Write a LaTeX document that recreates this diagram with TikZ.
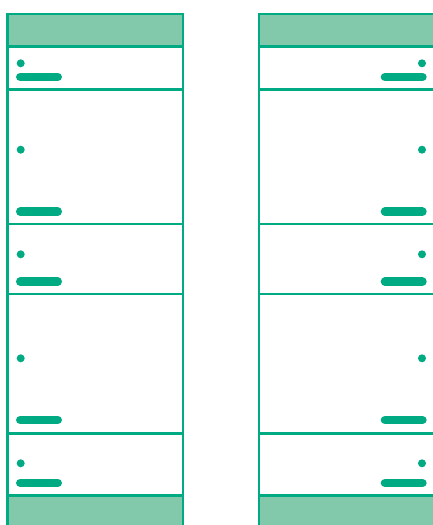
\documentclass[tikz,border=0pt]{standalone}
\usepackage{tikz}
\definecolor{panelline}{RGB}{0,171,132}
\definecolor{panelfill}{RGB}{130,200,170}
\tikzset{
  panelframe/.style={draw=panelline, line width=1.7pt},
  panelband/.style={fill=panelfill},
  paneldot/.style={fill=panelline},
  panelbar/.style={draw=panelline, line width=4.9pt, line cap=round},
}

\begin{document}
\begin{tikzpicture}[x=0.02cm, y=-0.02cm]
\useasboundingbox (0,0) rectangle (433,525);
\clip (0,0) rectangle (433,525);
% two panels: left edge, right edge, dot x, bar start, bar end
\foreach \xl/\xr/\xd/\xa/\xb in {7.5/183/20.7/20.3/57.7, 259/434.5/422/385/422.4} {
  \fill[panelband] (\xl,14) rectangle (\xr,46.5);
  \fill[panelband] (\xl,495.7) rectangle (\xr,540);
  \draw[panelframe] (\xl,14) rectangle (\xr,540);
  \foreach \yy in {46.5, 89.5, 224, 294, 433.3, 495.7}
    \draw[panelframe] (\xl,\yy) -- (\xr,\yy);
  \foreach \yd/\yb in {63.3/77, 149.7/211.7, 254.3/281.7, 358.3/420, 463.3/483} {
    \fill[paneldot] (\xd,\yd) circle (0.08cm);
    \draw[panelbar] (\xa,\yb) -- (\xb,\yb);
  }
}
\end{tikzpicture}
\end{document}
